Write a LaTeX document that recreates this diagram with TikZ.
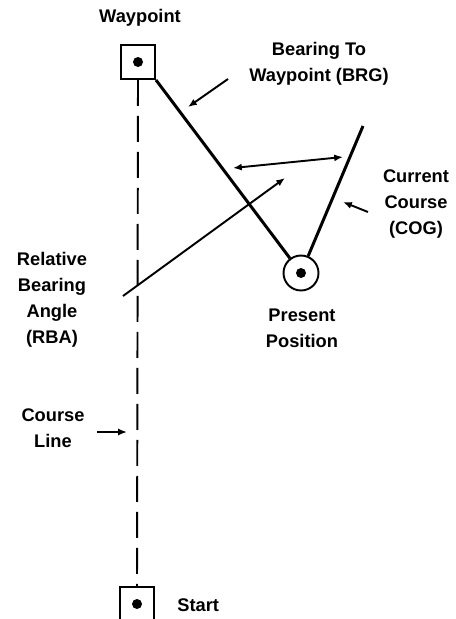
\documentclass[tikz,border=0pt]{standalone}
\usepackage{fontspec}
\setmainfont{Liberation Sans}
\usetikzlibrary{arrows.meta,positioning,calc}

\begin{document}
\begin{tikzpicture}[x=0.02cm, y=-0.02cm, >={Latex[length=5pt,width=4pt]},
    lbl/.style={font=\bfseries\fontsize{10.4}{14.7}\selectfont, align=center, inner sep=0pt},
    wpbox/.style={draw, line width=1.1pt, minimum size=0.68cm, inner sep=0pt},
    posring/.style={draw, circle, line width=1.1pt, minimum size=0.7cm, inner sep=0pt},
    track/.style={line width=1.7pt},
    pointer/.style={->, line width=1.1pt}]
    \clip (0,0) rectangle (456,619);
    % Waypoint, present position and start
    \node[wpbox] (wp) at (138,62) {};
    \fill (wp.center) circle (0.1cm);
    \node[posring] (pp) at (301,273) {};
    \fill (pp.center) circle (0.1cm);
    \node[wpbox] (st) at (137,604) {};
    \fill (st.center) circle (0.1cm);
    % Course line
    \draw[line width=1.1pt, dash pattern=on 0.52cm off 0.2cm] (wp.south) -- (st.north);
    % Bearing and course over ground
    \coordinate (cogend) at (363,126);
    \draw[track] (wp.south east) -- (pp);
    \draw[track] (pp) -- (cogend);
    % Relative bearing angle
    \coordinate (rbaA) at (233,168);
    \coordinate (rbaB) at (343,157);
    \draw[<->, line width=1.1pt] (rbaA) -- (rbaB);
    \coordinate (rbaTail) at (123,296);
    \coordinate (rbaTip) at (285,178);
    \draw[pointer] (rbaTail) -- (rbaTip);
    % Labels
    \node[lbl] (wpLbl) at (140,18) {Waypoint};
    \node[lbl] (brgLbl) at (319,64) {Bearing To\\Waypoint (BRG)};
    \node[lbl] (cogLbl) at (416,204) {Current\\Course\\(COG)};
    \node[lbl] (rbaLbl) at (52,300) {Relative\\Bearing\\Angle\\(RBA)};
    \node[lbl] (ppLbl) at (302,328) {Present\\Position};
    \node[lbl] (clLbl) at (53,428) {Course\\Line};
    \node[lbl, anchor=west] (stLbl) at (177,605) {Start};
    % Pointers
    \coordinate (brgFrom) at (228,79);
    \coordinate (brgTo) at (188,107);
    \draw[pointer] (brgFrom) -- (brgTo);
    \coordinate (cogFrom) at (368,212);
    \coordinate (cogTo) at (343,202);
    \draw[pointer] (cogFrom) -- (cogTo);
    \coordinate (clFrom) at (97,432);
    \coordinate (clTo) at (127,432);
    \draw[pointer] (clFrom) -- (clTo);
\end{tikzpicture}
\end{document}
